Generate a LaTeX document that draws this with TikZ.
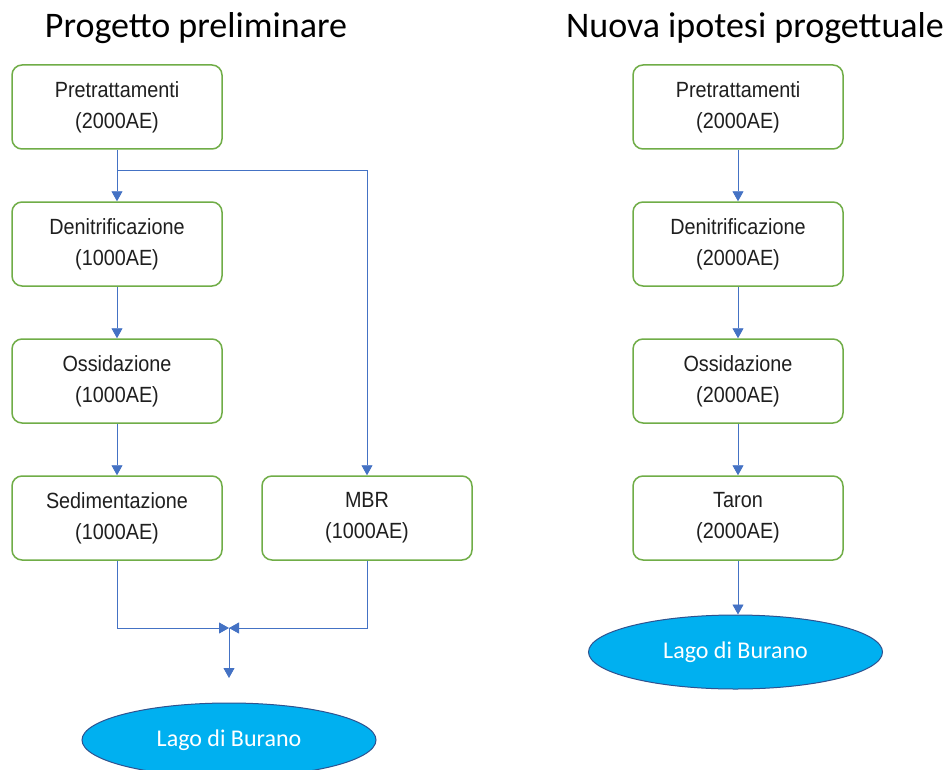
\documentclass[tikz,border=0pt]{standalone}
\usepackage{fontspec}
\usepackage{graphicx}
\setmainfont{Liberation Sans}
\newfontfamily\calibri{Carlito}
\usetikzlibrary{arrows.meta,shapes.geometric}
\definecolor{boxgreen}{HTML}{70AD47}
\definecolor{lineblue}{HTML}{4472C4}
\definecolor{lakefill}{HTML}{00B0F0}
\definecolor{lakeborder}{HTML}{2F528F}
\newcommand{\sq}[1]{\scalebox{0.9}[1]{#1}}
\begin{document}
\begin{tikzpicture}[x=1pt,y=-1pt,
 stepbox/.style={draw=boxgreen,line width=1.5pt,rounded corners=10pt,minimum width=210pt,minimum height=84pt,align=center,font=\fontsize{22}{31}\selectfont,text=black!88,inner sep=0pt},
 flow/.style={draw=lineblue,line width=0.9pt,-{Triangle[width=11pt,length=10pt]}},
 lake/.style={ellipse,draw=lakeborder,line width=1pt,fill=lakefill,minimum width=294pt,minimum height=74pt,text=white,font=\calibri\fontsize{24}{28}\selectfont,inner sep=0pt},
 title/.style={font=\calibri\fontsize{36}{40}\selectfont,anchor=base,inner sep=0pt}]
\clip (0,0) rectangle (952,770);
\fill[white] (0,0) rectangle (952,770);
% titles
\node[title] (t1) at (196,38) {Progetto preliminare};
\node[title] (t2) at (755,38) {Nuova ipotesi progettuale};
% left column
\node[stepbox] (p1) at (117,107) {\sq{Pretrattamenti}\\\sq{(2000AE)}};
\node[stepbox] (d1) at (117,244) {\sq{Denitrificazione}\\\sq{(1000AE)}};
\node[stepbox] (o1) at (117,381) {\sq{Ossidazione}\\\sq{(1000AE)}};
\node[stepbox] (s1) at (117,518) {\sq{Sedimentazione}\\\sq{(1000AE)}};
\node[stepbox] (m1) at (367,518) {\sq{MBR}\\\sq{(1000AE)}};
\node[lake] (l1) at (229,740) {Lago di Burano};
% right column
\node[stepbox] (p2) at (738,107) {\sq{Pretrattamenti}\\\sq{(2000AE)}};
\node[stepbox] (d2) at (738,244) {\sq{Denitrificazione}\\\sq{(2000AE)}};
\node[stepbox] (o2) at (738,381) {\sq{Ossidazione}\\\sq{(2000AE)}};
\node[stepbox] (r2) at (738,518) {\sq{Taron}\\\sq{(2000AE)}};
\node[lake] (l2) at (735.5,652) {Lago di Burano};
% left connectors
\draw[flow] (p1) -- (d1);
\draw[flow] (d1) -- (o1);
\draw[flow] (o1) -- (s1);
\coordinate (br) at (117,170);
\draw[flow] (br) -| (m1.north);
\coordinate (mg) at (229,628);
\coordinate (mgend) at (229,678);
\draw[flow] (s1.south) |- (mg);
\draw[flow] (m1.south) |- (mg);
\draw[flow] (mg) -- (mgend);
% right connectors
\draw[flow] (p2) -- (d2);
\draw[flow] (d2) -- (o2);
\draw[flow] (o2) -- (r2);
\draw[flow] (r2.south) -- (r2.south |- l2.north);
\end{tikzpicture}
\end{document}
